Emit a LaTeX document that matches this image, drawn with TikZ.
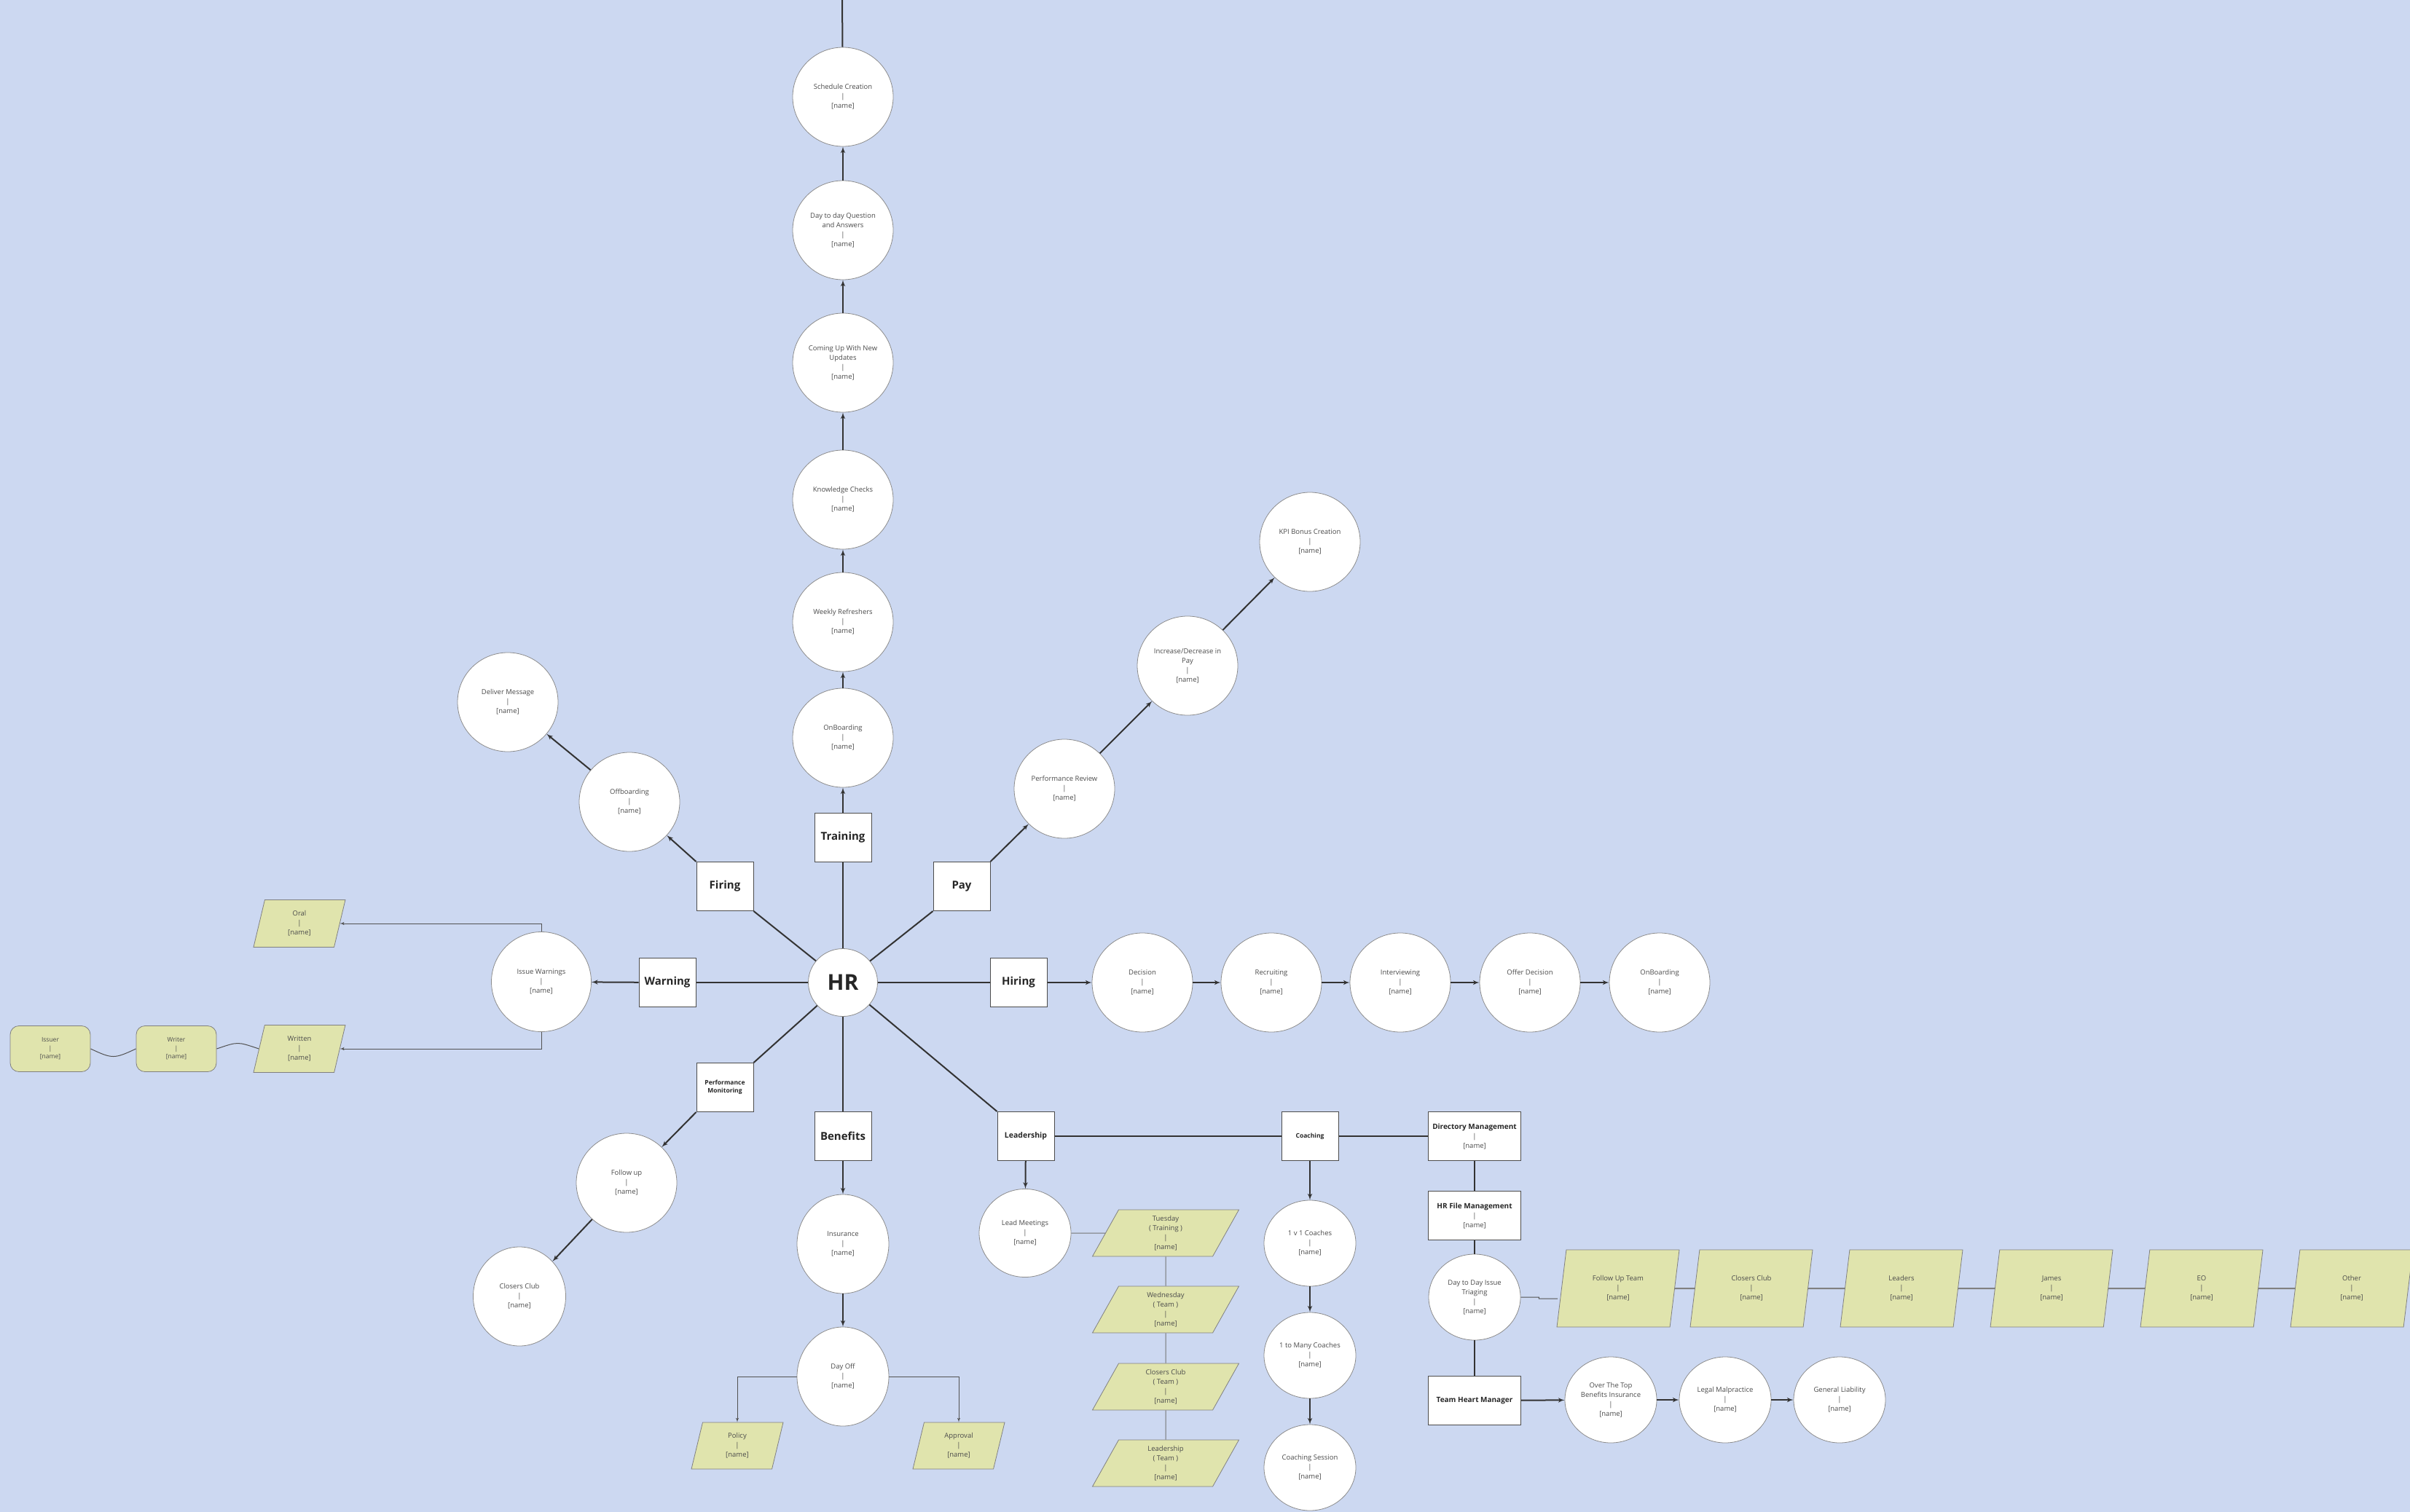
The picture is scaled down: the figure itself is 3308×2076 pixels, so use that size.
\documentclass[tikz,border=0pt]{standalone}
\usepackage{fontspec}
\setmainfont{Open Sans}
\usepackage{xcolor}
\usetikzlibrary{shapes}
\usetikzlibrary{arrows}
\tikzset{
  font={\fontsize{9.5pt}{13pt}\selectfont}}
\definecolor{bgblue}{RGB}{204,216,241}
\definecolor{paper}{RGB}{224,228,173}
\definecolor{ink}{RGB}{51,51,51}
\definecolor{txt}{RGB}{75,75,75}
\newcommand{\nm}{{[name]}}
\newcommand{\who}[1]{#1\\|\\\nm}
\newcommand{\ttl}[1]{{\color{black!85}\bfseries\fontsize{10pt}{13pt}\selectfont #1}}

\begin{document}
\begin{tikzpicture}[x=1pt, y=-1pt]
    
    \tikzset{edge/.style = {->, > = latex', draw=ink, line width=2pt}}
    \tikzset{link/.style = {draw=ink, line width=2pt}}
    \tikzset{wire/.style = {draw=ink!85, line width=1pt}}
    \tikzset{bubble/.style = {ellipse, draw=black!45, line width=0.8pt, fill=white, text=txt, align=center, inner sep=0pt, minimum width=138pt, minimum height=136pt}}
    \tikzset{slim/.style = {bubble, minimum width=126pt, minimum height=118pt}}
    \tikzset{topic/.style = {rectangle, draw=black!70, line width=1pt, fill=white, align=center, inner sep=0pt, minimum width=78pt, minimum height=67pt, text=black!85, font={\fontsize{15pt}{18pt}\selectfont\bfseries}}}
    \tikzset{desk/.style = {topic, minimum width=127pt, text=txt, font={\fontsize{9.5pt}{13pt}\selectfont}}}
    \tikzset{sheet/.style = {trapezium, trapezium left angle=66, trapezium right angle=114, trapezium stretches body, draw=black!50, line width=0.8pt, fill=paper, text=txt, align=center, inner sep=0pt, minimum width=126pt, minimum height=65pt}}
    \tikzset{card/.style = {rectangle, rounded corners=12pt, draw=black!50, line width=0.8pt, fill=paper, text=txt, align=center, inner sep=0pt, minimum width=110pt, minimum height=63pt, font={\fontsize{8.5pt}{11.5pt}\selectfont}}}
    
    \fill[bgblue] (0,0) rectangle (3308,2076);
    \useasboundingbox (0,0) rectangle (3308,2076);
    
    % vertices
    \node[bubble, minimum width=95pt, minimum height=93pt, text=black!85, font={\fontsize{30pt}{30pt}\selectfont\bfseries}] (hr) at (1157,1349) {HR};
    \node[topic] (train) at (1157,1150) {Training};
    \node[topic] (firing) at (995,1217) {Firing};
    \node[topic] (pay) at (1320,1217) {Pay};
    \node[topic] (warning) at (916,1349) {Warning};
    \node[topic] (hiring) at (1398,1349) {Hiring};
    \node[topic, font={\fontsize{8.5pt}{11pt}\selectfont\bfseries}] (perfmon) at (995,1493) {Performance\\Monitoring};
    \node[topic] (benefits) at (1157,1560) {Benefits};
    \node[topic, font={\fontsize{10.5pt}{13pt}\selectfont\bfseries}] (lead) at (1408,1560) {Leadership};
    
    % training
    \node[bubble] (onb1) at (1157,1013) {\who{OnBoarding}};
    \node[bubble] (weekly) at (1157,854) {\who{Weekly Refreshers}};
    \node[bubble] (checks) at (1157,686) {\who{Knowledge Checks}};
    \node[bubble] (coming) at (1157,498) {\who{Coming Up With New\\Updates}};
    \node[bubble] (dayqa) at (1157,316) {\who{Day to day Question\\and Answers}};
    \node[bubble] (sched) at (1157,133) {\who{Schedule Creation}};
    \coordinate (topend) at (1156,0);
    
    % firing
    \node[bubble] (offb) at (864,1101) {\who{Offboarding}};
    \node[bubble] (deliver) at (697,964) {\who{Deliver Message}};
    
    % pay
    \node[bubble] (review) at (1461,1083) {\who{Performance Review}};
    \node[bubble] (incdec) at (1630,914) {\who{Increase/Decrease in\\Pay}};
    \node[bubble] (kpi) at (1798,744) {\who{KPI Bonus Creation}};
    
    % hiring
    \node[bubble] (decision) at (1568,1349) {\who{Decision}};
    \node[bubble] (recruit) at (1745,1349) {\who{Recruiting}};
    \node[bubble] (interview) at (1922,1349) {\who{Interviewing}};
    \node[bubble] (offer) at (2100,1349) {\who{Offer Decision}};
    \node[bubble] (onb2) at (2278,1349) {\who{OnBoarding}};
    
    % warning
    \node[bubble, minimum width=137pt, minimum height=137pt] (issue) at (743,1348) {\who{Issue Warnings}};
    \node[sheet] (oral) at (411,1268) {\who{Oral}};
    \node[sheet] (written) at (411,1440) {\who{Written}};
    \node[card] (issuer) at (69,1440) {\who{Issuer}};
    \node[card] (writer) at (242,1440) {\who{Writer}};
    
    % performance monitoring
    \node[bubble] (followup) at (860,1624) {\who{Follow up}};
    \node[bubble, minimum width=127pt] (closers) at (713,1780) {\who{Closers Club}};
    
    % benefits
    \node[bubble, minimum width=126pt] (insur) at (1157,1708) {\who{Insurance}};
    \node[bubble, minimum width=126pt] (dayoff) at (1157,1890) {\who{Day Off}};
    \node[sheet, minimum height=64pt] (policy) at (1012,1985) {\who{Policy}};
    \node[sheet, minimum height=64pt] (approval) at (1316,1985) {\who{Approval}};
    
    % leadership
    \node[slim, minimum height=121pt] (meet) at (1407,1693) {\who{Lead Meetings}};
    \node[sheet, trapezium left angle=53, trapezium right angle=127, minimum width=201pt, minimum height=64pt] (tue) at (1600,1693) {Tuesday\\( Training )\\|\\\nm};
    \node[sheet, trapezium left angle=53, trapezium right angle=127, minimum width=201pt, minimum height=64pt] (wed) at (1600,1798) {Wednesday\\( Team )\\|\\\nm};
    \node[sheet, trapezium left angle=53, trapezium right angle=127, minimum width=201pt, minimum height=64pt] (ccteam) at (1600,1904) {Closers Club\\( Team )\\|\\\nm};
    \node[sheet, trapezium left angle=53, trapezium right angle=127, minimum width=201pt, minimum height=64pt] (ldteam) at (1600,2009) {Leadership\\( Team )\\|\\\nm};
    
    % coaching
    \node[topic, font={\fontsize{8.5pt}{11pt}\selectfont\bfseries}] (coach) at (1798,1560) {Coaching};
    \node[slim] (onev) at (1798,1707) {\who{1 v 1 Coaches}};
    \node[slim] (onemany) at (1798,1861) {\who{1 to Many Coaches}};
    \node[slim] (session) at (1798,2015) {\who{Coaching Session}};
    
    % directory
    \node[desk] (dir) at (2024,1560) {\ttl{Directory Management}\\|\\\nm};
    \node[desk] (hrfile) at (2024,1669) {\ttl{HR File Management}\\|\\\nm};
    \node[slim] (triage) at (2024,1781) {\who{Day to Day Issue\\Triaging}};
    \node[desk] (heart) at (2024,1923) {\ttl{Team Heart Manager}};
    \node[slim] (ottop) at (2211,1922) {\who{Over The Top\\Benefits Insurance}};
    \node[slim] (legal) at (2368,1922) {\who{Legal Malpractice}};
    \node[slim] (general) at (2525,1922) {\who{General Liability}};
    
    % triage row
    \node[sheet, trapezium left angle=69.6, trapezium right angle=110.4, minimum width=168pt, minimum height=106pt] (futeam) at (2221,1769) {\who{Follow Up Team}};
    \node[sheet, trapezium left angle=69.6, trapezium right angle=110.4, minimum width=168pt, minimum height=106pt] (ccrow) at (2404,1769) {\who{Closers Club}};
    \node[sheet, trapezium left angle=69.6, trapezium right angle=110.4, minimum width=168pt, minimum height=106pt] (leaders) at (2610,1769) {\who{Leaders}};
    \node[sheet, trapezium left angle=69.6, trapezium right angle=110.4, minimum width=168pt, minimum height=106pt] (james) at (2816,1769) {\who{James}};
    \node[sheet, trapezium left angle=69.6, trapezium right angle=110.4, minimum width=168pt, minimum height=106pt] (eo) at (3022,1769) {\who{EO}};
    \node[sheet, trapezium left angle=69.6, trapezium right angle=110.4, minimum width=168pt, minimum height=106pt] (other) at (3228,1769) {\who{Other}};
    
    %edges
    \draw[link] (hr) to (firing.south east);
    \draw[link] (hr) to (train);
    \draw[link] (hr) to (pay.south west);
    \draw[link] (hr) to (warning);
    \draw[link] (hr) to (hiring);
    \draw[link] (hr) to (perfmon.north east);
    \draw[link] (hr) to (benefits);
    \draw[link] (hr) to (lead.north west);
    
    \draw[edge] (train) to (onb1);
    \draw[edge] (onb1) to (weekly);
    \draw[edge] (weekly) to (checks);
    \draw[edge] (checks) to (coming);
    \draw[edge] (coming) to (dayqa);
    \draw[edge] (dayqa) to (sched);
    \draw[link] (sched) to (topend);
    
    \draw[edge] (firing.north west) to (offb);
    \draw[edge] (offb) to (deliver);
    
    \draw[edge] (pay.north east) to (review);
    \draw[edge] (review) to (incdec);
    \draw[edge] (incdec) to (kpi);
    
    \draw[edge] (hiring) to (decision);
    \draw[edge] (decision) to (recruit);
    \draw[edge] (recruit) to (interview);
    \draw[edge] (interview) to (offer);
    \draw[edge] (offer) to (onb2);
    
    \draw[edge] (warning) to (issue);
    \draw[wire, ->, > = latex'] (issue.north) |- (oral);
    \draw[wire, ->, > = latex'] (issue.south) |- (written);
    \draw[wire] (issuer.east) .. controls +(30,14) and +(-30,14) .. (writer.west);
    \draw[wire] (writer.east) .. controls +(30,-10) and +(-30,-10) .. (written.west);
    
    \draw[edge] (perfmon.south west) to (followup);
    \draw[edge] (followup) to (closers);
    
    \draw[edge] (benefits) to (insur);
    \draw[edge] (insur) to (dayoff);
    \draw[wire, ->, > = latex'] (dayoff.west) -| (policy);
    \draw[wire, ->, > = latex'] (dayoff.east) -| (approval);
    
    \draw[edge] (lead) to (meet);
    \draw[wire, draw=black!55] (meet) to (tue);
    \draw[wire, draw=black!55] (tue) to (wed);
    \draw[wire, draw=black!55] (wed) to (ccteam);
    \draw[wire, draw=black!55] (ccteam) to (ldteam);
    \draw[link] (lead) to (coach);
    \draw[link] (coach) to (dir);
    
    \draw[edge] (coach) to (onev);
    \draw[edge] (onev) to (onemany);
    \draw[edge] (onemany) to (session);
    
    \draw[link] (dir) to (hrfile);
    \draw[link] (hrfile) to (triage);
    \draw[link] (triage) to (heart);
    \draw[edge] (heart) to (ottop);
    \draw[edge] (ottop) to (legal);
    \draw[edge] (legal) to (general);
    
    \draw[wire] (triage.east) -- ++(25,0) -- ++(0,2) -- ([xshift=-5pt,yshift=-14pt]futeam.west);
    \draw[link, draw=black!50] (futeam) to (ccrow);
    \draw[link, draw=black!50] (ccrow) to (leaders);
    \draw[link, draw=black!50] (leaders) to (james);
    \draw[link, draw=black!50] (james) to (eo);
    \draw[link, draw=black!50] (eo) to (other);
    
\end{tikzpicture}
\end{document}
